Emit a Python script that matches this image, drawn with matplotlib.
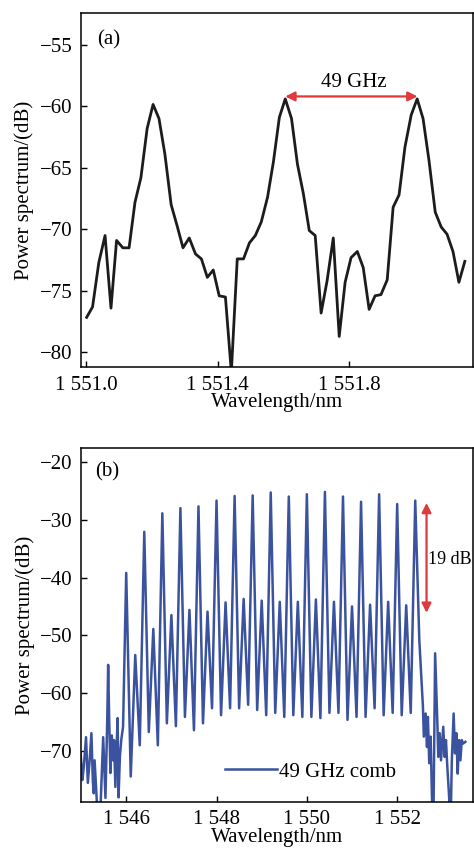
import numpy as np
import matplotlib
matplotlib.use("Agg")
import matplotlib.pyplot as plt

plt.rcParams['font.family'] = ['Liberation Serif', 'DejaVu Serif']
plt.rcParams['font.size'] = 15

# ---- panel (a): zoom on three comb lines ----
wl_a = [1551.002, 1551.020, 1551.039, 1551.058, 1551.076, 1551.093, 1551.112, 1551.131,
        1551.149, 1551.167, 1551.186, 1551.204, 1551.222, 1551.240, 1551.259, 1551.277,
        1551.295, 1551.314, 1551.333, 1551.351, 1551.369, 1551.387, 1551.405, 1551.424,
        1551.442, 1551.460, 1551.479, 1551.497, 1551.515, 1551.533, 1551.552, 1551.570,
        1551.588, 1551.606, 1551.625, 1551.643, 1551.661, 1551.679, 1551.697, 1551.715,
        1551.733, 1551.752, 1551.770, 1551.788, 1551.806, 1551.825, 1551.843, 1551.861,
        1551.879, 1551.897, 1551.916, 1551.934, 1551.952, 1551.970, 1551.989, 1552.007,
        1552.025, 1552.043, 1552.062, 1552.080, 1552.098, 1552.116, 1552.134, 1552.152]
pw_a = [-77.15, -76.3, -72.7, -70.5, -76.4, -70.9, -71.5, -71.5,
        -67.8, -65.8, -61.8, -59.85, -61.0, -63.9, -68.0, -69.7,
        -71.5, -70.7, -72.0, -72.4, -73.9, -73.3, -75.4, -75.5,
        -81.6, -72.4, -72.4, -71.1, -70.5, -69.4, -67.4, -64.5,
        -60.9, -59.4, -61.0, -64.7, -67.1, -70.1, -70.5, -76.8,
        -74.2, -70.7, -78.7, -74.3, -72.3, -71.8, -73.1, -76.5,
        -75.4, -75.3, -74.1, -68.2, -67.2, -63.3, -60.7, -59.4,
        -61.0, -64.4, -68.6, -69.8, -70.4, -71.8, -74.3, -72.6]

xticks_a = [1551.0, 1551.4, 1551.8]
xticklabels_a = ['1 551.0', '1 551.4', '1 551.8']
yticks_a = [-80, -75, -70, -65, -60, -55]

# ---- panel (b): full 49 GHz comb ----
peak_wl = [1546.0, 1546.4, 1546.8, 1547.2, 1547.6, 1548.0, 1548.4, 1548.8, 1549.2,
           1549.6, 1550.0, 1550.4, 1550.8, 1551.2, 1551.6, 1552.0, 1552.4]
peak_db = [-39.2, -32.1, -28.9, -28.0, -27.7, -26.7, -25.9, -25.8, -25.3,
           -26.0, -25.6, -25.2, -26.0, -26.9, -25.6, -27.3, -26.7]
sub_wl = [1546.2, 1546.6, 1547.0, 1547.4, 1547.8, 1548.2, 1548.6, 1549.0,
          1549.4, 1549.8, 1550.2, 1550.6, 1551.0, 1551.4, 1551.8, 1552.2]
sub_db = [-53.4, -48.9, -46.5, -45.6, -45.9, -44.3, -43.7, -44.0,
          -44.2, -44.2, -43.8, -44.2, -45.0, -44.7, -44.2, -44.8]
dip_a_wl = [1546.1, 1546.5, 1546.9, 1547.3, 1547.7, 1548.1, 1548.5, 1548.9,
            1549.3, 1549.7, 1550.1, 1550.5, 1550.9, 1551.3, 1551.7, 1552.1]
dip_a_db = [-74.4, -66.7, -65.2, -64.1, -65.2, -63.8, -62.6, -62.9,
            -63.4, -63.8, -64.1, -63.4, -64.6, -64.1, -63.8, -63.8]
dip_b_wl = [1546.3, 1546.7, 1547.1, 1547.5, 1547.9, 1548.3, 1548.7, 1549.1,
            1549.5, 1549.9, 1550.3, 1550.7, 1551.1, 1551.5, 1551.9, 1552.3]
dip_b_db = [-69.0, -69.0, -65.7, -66.4, -62.6, -62.6, -62.0, -63.8,
            -64.1, -64.1, -64.3, -63.4, -64.1, -62.6, -63.4, -63.4]

# noise floor outside the comb
left_wl = [1544.99, 1545.03, 1545.06, 1545.11, 1545.15, 1545.19, 1545.23, 1545.26,
           1545.28, 1545.30, 1545.40, 1545.49, 1545.54, 1545.58, 1545.60, 1545.62,
           1545.65, 1545.68, 1545.71, 1545.73, 1545.76, 1545.79, 1545.81, 1545.83,
           1545.86, 1545.89, 1545.93]
left_db = [-70.3, -75.0, -72.8, -67.6, -75.5, -71.6, -66.9, -75.0,
           -77.3, -71.6, -86.0, -67.6, -78.1, -64.6, -55.1, -63.4,
           -73.8, -67.3, -71.6, -68.1, -76.2, -68.6, -64.3, -78.0,
           -71.0, -68.1, -65.8]
right_wl = [1552.49, 1552.57, 1552.59, 1552.63, 1552.66, 1552.68, 1552.71, 1552.74,
            1552.77, 1552.80, 1552.84, 1552.89, 1552.91, 1552.94, 1552.97, 1553.02,
            1553.05, 1553.08, 1553.11, 1553.15, 1553.18, 1553.21, 1553.25, 1553.28,
            1553.31, 1553.34, 1553.37, 1553.40, 1553.43, 1553.46, 1553.51]
right_db = [-50.8, -62.3, -67.5, -63.5, -69.3, -64.1, -72.1, -67.5,
            -77.9, -84.0, -53.1, -65.2, -71.0, -66.9, -71.6, -65.8,
            -71.0, -68.1, -72.7, -77.9, -84.0, -71.6, -63.5, -70.4,
            -66.9, -73.9, -68.1, -71.6, -68.1, -68.7, -68.4]

xticks_b = [1546, 1548, 1550, 1552]
xticklabels_b = ['1 546', '1 548', '1 550', '1 552']
yticks_b = [-70, -60, -50, -40, -30, -20]

# assemble comb trace: peak, dip, sub-peak, dip, next peak ...
wl_b = list(left_wl)
pw_b = list(left_db)
for k in range(len(peak_wl)):
    wl_b.append(peak_wl[k]); pw_b.append(peak_db[k])
    if k < len(sub_wl):
        wl_b += [dip_a_wl[k], sub_wl[k], dip_b_wl[k]]
        pw_b += [dip_a_db[k], sub_db[k], dip_b_db[k]]
wl_b += right_wl
pw_b += right_db

red = '#e0393b'
blue = '#3b539f'


def style(ax):
    for s in ax.spines.values():
        s.set_linewidth(1.1)
    ax.tick_params(direction='in', length=4, width=1, labelsize=15)
    ax.tick_params(axis='y', pad=6)
    ax.tick_params(axis='x', pad=6)
    ax.set_ylabel('Power spectrum/(dB)', fontsize=15, labelpad=4)
    ax.set_xlabel('Wavelength/nm', fontsize=15, labelpad=-1)


fig = plt.figure(figsize=(4.74, 8.5), dpi=100)

ax1 = fig.add_axes([0.171, 0.568, 0.827, 0.417])
ax1.plot(wl_a, pw_a, color='#1c1c1c', lw=2.0)
ax1.set_xlim(1550.985, 1552.177)
ax1.set_ylim(-81.2, -52.4)
ax1.set_xticks(xticks_a)
ax1.set_xticklabels(xticklabels_a)
ax1.set_yticks(yticks_a)
ax1.set_yticklabels(['\u2212%d' % abs(v) for v in yticks_a])
style(ax1)
ax1.annotate('', xy=(1551.606, -59.2), xytext=(1552.008, -59.2),
             arrowprops=dict(arrowstyle='<|-|>', color=red, lw=1.6,
                             mutation_scale=14, shrinkA=0, shrinkB=0))
ax1.text(1551.815, -58.1, '49 GHz', ha='center', va='center', fontsize=15)
ax1.text(0.041, 0.924, '(a)', transform=ax1.transAxes, ha='left', va='center', fontsize=15)

ax2 = fig.add_axes([0.171, 0.0565, 0.827, 0.4165])
ax2.plot(wl_b, pw_b, color=blue, lw=1.8, label='49 GHz comb')
ax2.set_xlim(1545.0, 1553.68)
ax2.set_ylim(-78.8, -17.6)
ax2.set_xticks(xticks_b)
ax2.set_xticklabels(xticklabels_b)
ax2.set_yticks(yticks_b)
ax2.set_yticklabels(['\u2212%d' % abs(v) for v in yticks_b])
style(ax2)
ax2.annotate('', xy=(1552.65, -27.1), xytext=(1552.65, -46.1),
             arrowprops=dict(arrowstyle='<|-|>', color=red, lw=1.6,
                             mutation_scale=14, shrinkA=0, shrinkB=0))
ax2.text(1552.69, -36.9, '19 dB', ha='left', va='center', fontsize=13)
ax2.text(0.036, 0.932, '(b)', transform=ax2.transAxes, ha='left', va='center', fontsize=15)
ax2.legend(loc='center left', bbox_to_anchor=(0.367, 0.085), frameon=False,
           borderaxespad=0, borderpad=0, handlelength=2.5, handletextpad=0.1,
           fontsize=15)

fig.savefig('out.png', dpi=100)
